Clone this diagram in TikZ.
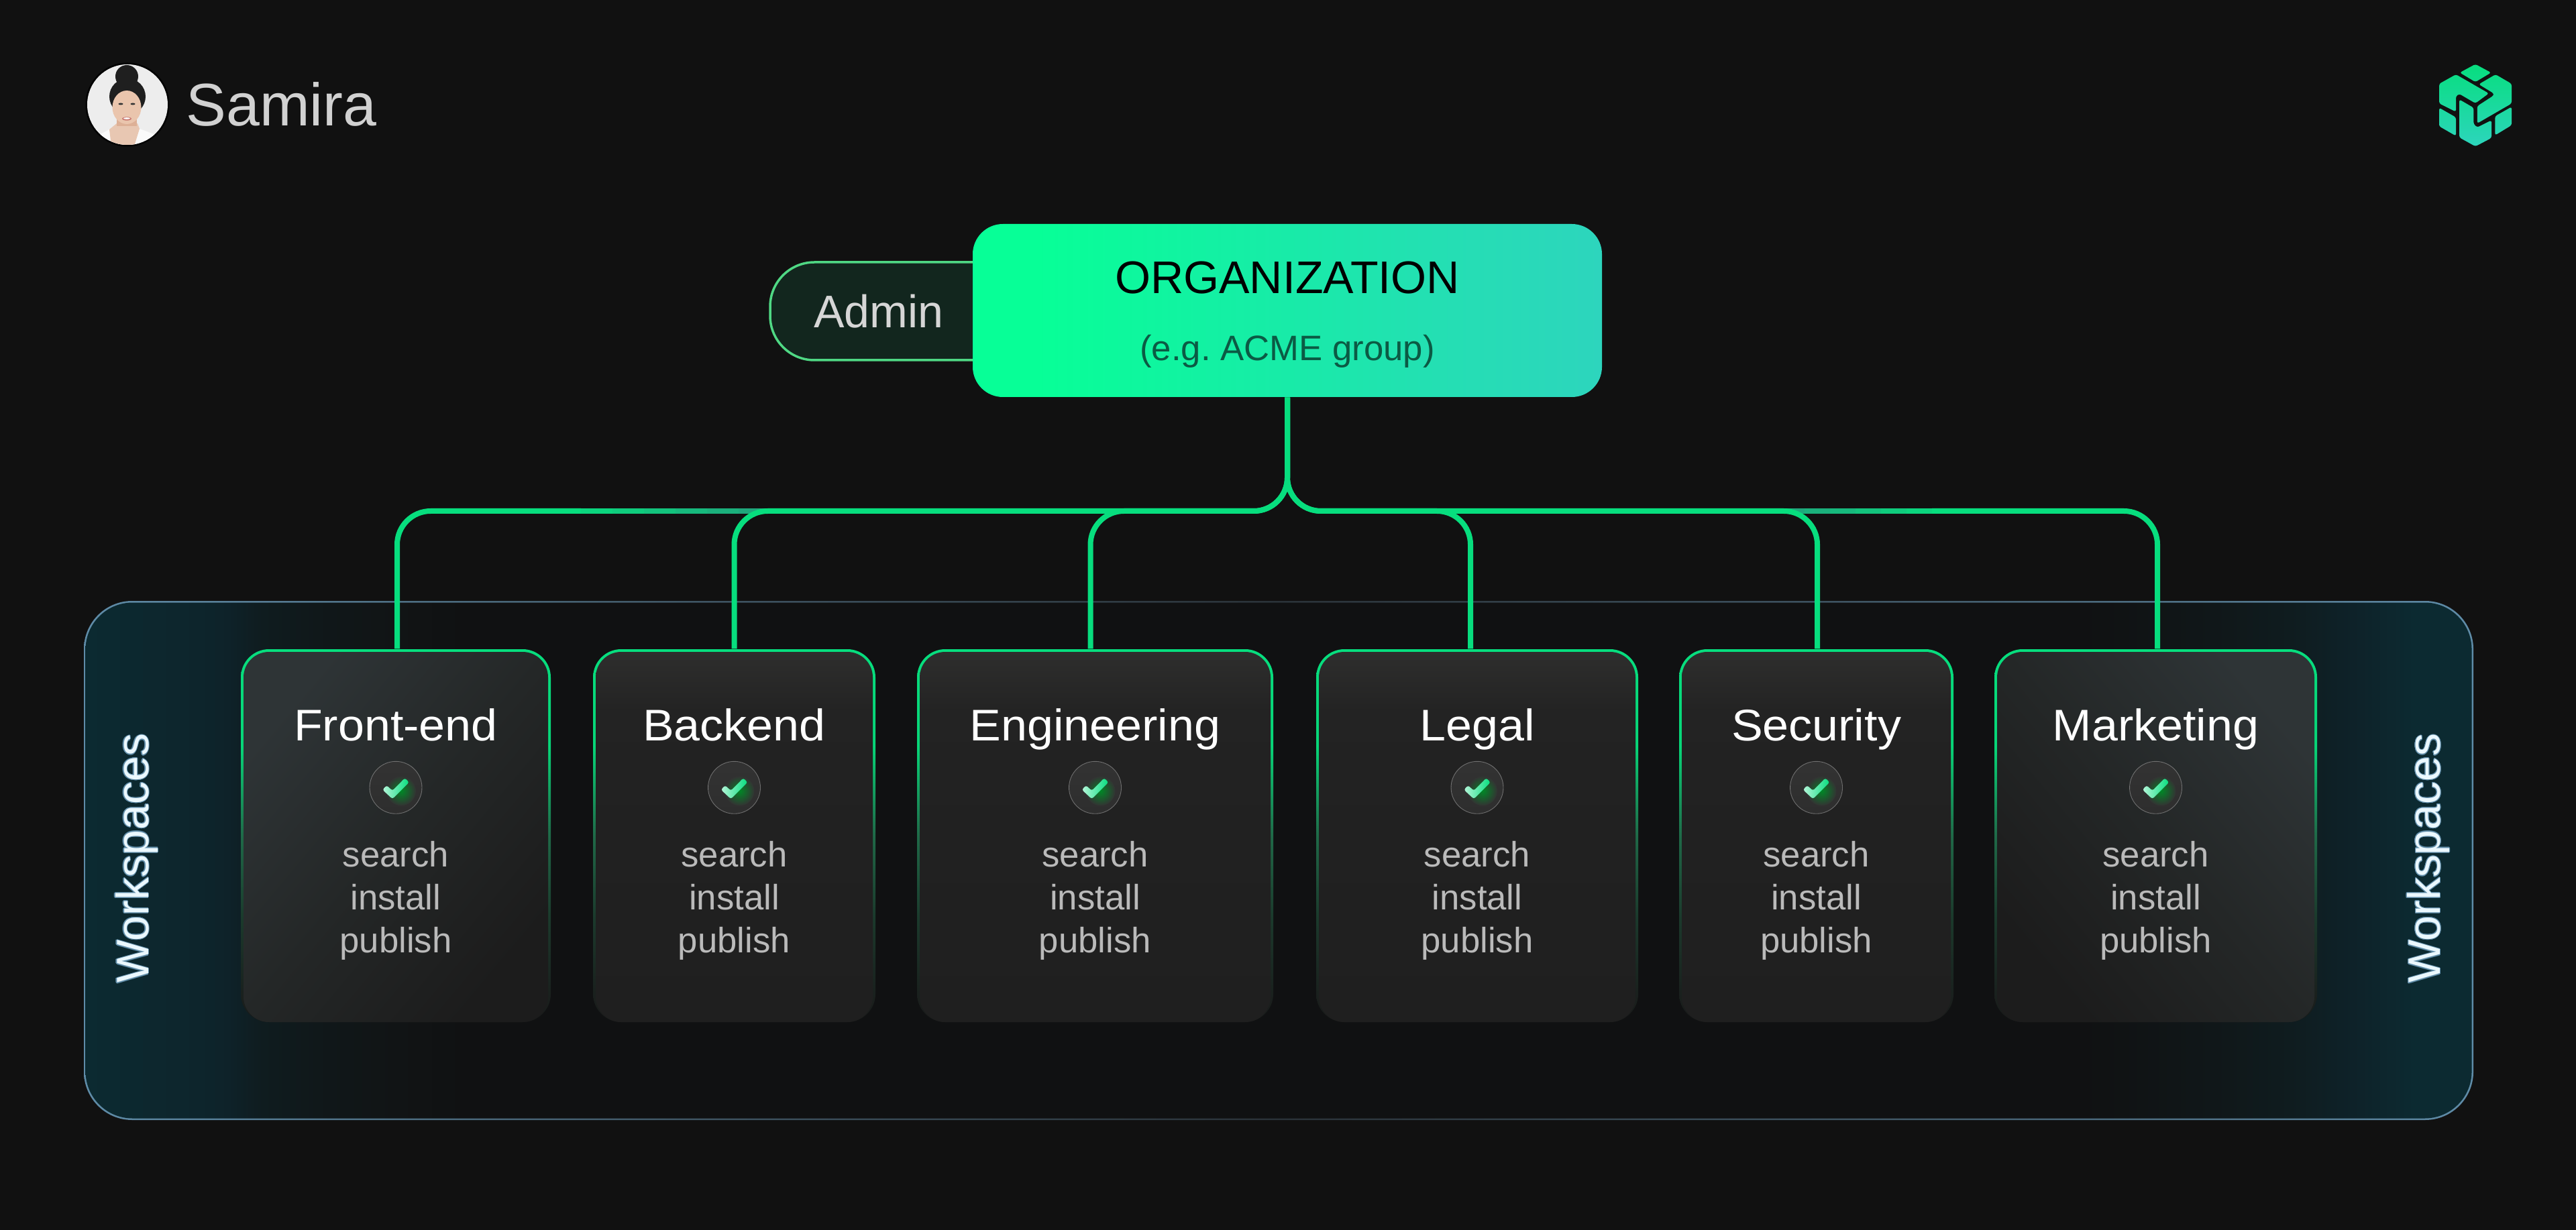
\documentclass[tikz,border=0pt]{standalone}
\usepackage{fontspec}
\usepackage[copies]{contour}
\setmainfont{Liberation Sans}
\newfontfamily\titlefont[FakeStretch=1.06]{Liberation Sans}
\usetikzlibrary{calc}

\definecolor{pagebg}{HTML}{111111}
\definecolor{busgreen}{HTML}{07DE7E}
\definecolor{busdim}{HTML}{1FA77C}
\definecolor{panelteal}{HTML}{0C2A31}
\definecolor{panelb}{HTML}{0D252C}
\definecolor{panelc}{HTML}{0E2229}
\definecolor{paneld}{HTML}{0F1C1F}
\definecolor{panele}{HTML}{101719}
\definecolor{panelf}{HTML}{111415}
\definecolor{panelcore}{HTML}{101112}
\definecolor{lineblue}{HTML}{5F8CA8}
\definecolor{linemid}{HTML}{3F5563}
\definecolor{linecore}{HTML}{2A3238}
\definecolor{stroke0}{HTML}{191B1A}
\definecolor{stroke1}{HTML}{1A211E}
\definecolor{stroke2}{HTML}{1B3A2C}
\definecolor{stroke3}{HTML}{1F6A48}
\definecolor{stroke4}{HTML}{07D678}
\definecolor{cardlow}{HTML}{1F1F1F}
\definecolor{cardmid}{HTML}{232323}
\definecolor{cardtop}{HTML}{2E2E2D}
\definecolor{sidelow}{HTML}{1C1C1C}
\definecolor{sidemid}{HTML}{242727}
\definecolor{sidetop}{HTML}{2E3436}
\definecolor{orgleft}{HTML}{07FF97}
\definecolor{orgmid}{HTML}{18EBA8}
\definecolor{orghigh}{HTML}{24DFB3}
\definecolor{orgright}{HTML}{2DD5BD}
\definecolor{adminfill}{HTML}{12261E}
\definecolor{adminline}{HTML}{4FD884}
\definecolor{orgnote}{HTML}{0B5A44}
\definecolor{skin}{HTML}{EAC5AD}
\definecolor{skinlow}{HTML}{DDB096}
\definecolor{skinchest}{HTML}{E8C7B2}
\definecolor{lips}{HTML}{C97A72}

\pgfdeclarehorizontalshading{panelband}{100bp}{color(0bp)=(panelteal); color(25bp)=(panelteal);
    color(27.4bp)=(panelb); color(28bp)=(panelc); color(28.7bp)=(paneld); color(30.1bp)=(panele);
    color(31.5bp)=(panelf); color(33bp)=(panelcore); color(66.8bp)=(panelcore); color(69.6bp)=(panele);
    color(71.2bp)=(paneld); color(72.5bp)=(panelc); color(73.8bp)=(panelteal); color(75bp)=(panelteal); color(100bp)=(panelteal)}
\pgfdeclarehorizontalshading{panelline}{100bp}{color(0bp)=(lineblue); color(25bp)=(lineblue);
    color(38bp)=(linemid); color(50bp)=(linecore); color(62bp)=(linemid); color(75bp)=(lineblue); color(100bp)=(lineblue)}
\pgfdeclareverticalshading{cardstroke}{100bp}{color(0bp)=(stroke0); color(25bp)=(stroke0); color(29bp)=(stroke1);
    color(39bp)=(stroke2); color(50bp)=(stroke3); color(62bp)=(stroke4); color(75bp)=(busgreen); color(100bp)=(busgreen)}
\pgfdeclareverticalshading{cardbody}{100bp}{color(0bp)=(cardlow); color(25bp)=(cardlow); color(50bp)=(cardlow!50!cardmid);
    color(67bp)=(cardmid); color(75bp)=(cardtop); color(100bp)=(cardtop)}
\pgfdeclareverticalshading{cardside}{100bp}{color(0bp)=(sidelow); color(25bp)=(sidelow); color(50bp)=(sidemid);
    color(75bp)=(sidetop); color(100bp)=(sidetop)}
\pgfdeclarehorizontalshading{orgband}{100bp}{color(0bp)=(orgleft); color(25bp)=(orgleft); color(30bp)=(orgleft);
    color(50bp)=(orgmid); color(62bp)=(orghigh); color(75bp)=(orgright); color(100bp)=(orgright)}

\contourlength{.3pt}

\tikzset{
    checkbadge/.pic={
        \fill[top color=black!10!white!22!black, bottom color=white!18!black] (0,0) circle (.39);
        \shade[inner color=green!45!black!85!cyan, outer color=white!20!black] (.08,-.05) circle (.22);
        \draw[white, opacity=.35, line width=.25pt] (0,0) circle (.39);
        \path[rounded corners=.03cm, left color=white!70!busgreen, right color=busgreen]
            (-.136,.033) -- (-.05,-.047) -- (.135,.1415) -- (.199,.0785) -- (-.05,-.17) -- (-.198,-.033) -- cycle;
    }
}

\begin{document}
\begin{tikzpicture}
    \tikzstyle{panel} = [rectangle, inner sep=0, minimum width=35.62cm, minimum height=7.74cm, rounded corners=.72cm]
    \tikzstyle{cardedge} = [rectangle, inner sep=0, minimum height=5.56cm, rounded corners=.42cm, shading=cardstroke]
    \tikzstyle{cardfill} = [rectangle, inner sep=0, minimum height=5.52cm, rounded corners=.38cm, shading=cardbody]
    \tikzstyle{cardlight} = [cardfill, shading=cardside]
    \tikzstyle{cardtitle} = [anchor=base, inner sep=0, white, font=\titlefont\fontsize{18.8pt}{22pt}\selectfont]
    \tikzstyle{verb} = [anchor=base, inner sep=0, black!27!white, font=\fontsize{15pt}{18pt}\selectfont]
    \tikzstyle{sideword} = [anchor=base, inner sep=0, rotate=90, white!92!cyan, font=\fontsize{19.3pt}{22pt}\selectfont]
    \tikzstyle{busline} = [busgreen, line width=.08cm, rounded corners=.5cm]
    \tikzstyle{busfade} = [line width=.08cm]

    % Page ----------------------------------------------
    \fill[pagebg] (0, 0) rectangle (38.4, -18.34);

    % Person --------------------------------------------
    \node[circle, fill=black, inner sep=0, minimum size=1.25cm] (avatar) at (1.90, -1.56) {};
    \begin{scope}
        \clip (avatar) circle (.6);
        \fill[black!7!white] (1.2, -.9) rectangle (2.6, -2.2);
        \fill[white!98!black] (1.40, -2.20) -- (1.48, -2.01) -- (1.63, -1.93) -- (2.08, -1.92) -- (2.35, -2.02) -- (2.40, -2.20) -- cycle;
        \fill[skinchest] (1.63, -1.93) -- (1.74, -1.84) -- (2.05, -1.84) -- (2.08, -1.92) -- (2.00, -2.18) -- (1.66, -2.18) -- cycle;
        \fill[black!88] (1.89, -1.14) circle (.17);
        \fill[black!88] (1.90, -1.44) ellipse (.27 and .27);
        \fill[skinlow] (1.74, -1.70) rectangle (2.04, -1.88);
        \fill[skin] (1.89, -1.60) ellipse (.215 and .25);
        \fill[black!80] (1.80, -1.55) ellipse (.035 and .015);
        \fill[black!80] (1.98, -1.55) ellipse (.035 and .015);
        \fill[lips] (1.89, -1.77) ellipse (.07 and .027);
        \fill[white] (1.89, -1.765) ellipse (.05 and .013);
    \end{scope}
    \node[anchor=base west, inner sep=0, black!18!white, font=\fontsize{25.5pt}{28pt}\selectfont] (person) at (2.77, -1.88) {Samira};

    % Logo ----------------------------------------------
    \begin{scope}
        \clip[rounded corners=.03cm]
            (36.9, -.957) -- (37.133, -1.083) -- (36.9, -1.223) -- (36.667, -1.083) -- cycle
            (37.2, -1.11) -- (37.44, -1.25) -- (37.44, -1.543) -- (36.927, -1.84) -- (36.927, -1.583) -- (37.173, -1.423) -- (37.173, -1.393) -- (36.95, -1.257) -- cycle
            (36.61, -1.11) -- (37.1, -1.393) -- (36.9, -1.54) -- (36.66, -1.40) -- (36.61, -1.433) -- (36.61, -1.667) -- (36.36, -1.543) -- (36.36, -1.25) -- cycle
            (36.36, -1.607) -- (36.61, -1.75) -- (36.61, -2.027) -- (36.36, -1.883) -- cycle
            (36.66, -1.483) -- (36.873, -1.607) -- (36.873, -1.85) -- (36.927, -1.90) -- (37.14, -1.793) -- (37.14, -2.057) -- (36.9, -2.183) -- (36.66, -2.05) -- cycle
            (37.193, -1.733) -- (37.44, -1.593) -- (37.44, -1.867) -- (37.193, -2.017) -- cycle;
        \shade[top color=busgreen, bottom color=orgright] (36.3, -.95) rectangle (37.5, -2.19);
    \end{scope}

    % Workspaces panel ----------------------------------
    \node[panel, shading=panelline] (panel) at (19.06, -12.83) {};
    \node[panel, shading=panelband, minimum width=35.57cm, minimum height=7.69cm, rounded corners=.70cm] (panel_fill) at (panel) {};
    \node[sideword] (left_word) at (2.21, -12.80) {\contour{lineblue}{Workspaces}};
    \node[sideword] (right_word) at (36.37, -12.80) {\contour{lineblue}{Workspaces}};

    % Organization --------------------------------------
    \node[rectangle, draw=adminline, line width=.035cm, fill=adminfill, rounded corners=.66cm, minimum width=4cm, minimum height=1.46cm] (admin) at (13.48, -4.64) {};
    \node[inner sep=0, text=white!84!black, font=\fontsize{19.4pt}{22pt}\selectfont] (admin_label) at (13.10, -4.64) {Admin};
    \node[rectangle, inner sep=0, minimum width=9.38cm, minimum height=2.58cm, rounded corners=.45cm, shading=orgband] (organization) at (19.19, -4.63) {};
    \node[anchor=base, inner sep=0, black, font=\fontsize{19.4pt}{22pt}\selectfont] (org_name) at ($(organization.north) + (0, -1.04)$) {ORGANIZATION};
    \node[anchor=base, inner sep=0, orgnote, font=\fontsize{15pt}{18pt}\selectfont] (org_note) at ($(organization.north) + (0, -2.04)$) {(e.g.\ ACME group)};

    % Cards ---------------------------------------------
    \node[cardedge, minimum width=4.62cm] (front) at (5.90, -12.46) {};
    \node[cardedge, minimum width=4.21cm] (backend) at (10.945, -12.46) {};
    \node[cardedge, minimum width=5.31cm] (engineering) at (16.325, -12.46) {};
    \node[cardedge, minimum width=4.80cm] (legal) at (22.02, -12.46) {};
    \node[cardedge, minimum width=4.09cm] (security) at (27.075, -12.46) {};
    \node[cardedge, minimum width=4.81cm] (marketing) at (32.135, -12.46) {};

    % Connectors ----------------------------------------
    \coordinate (bus) at (19.19, -7.62);
    \coordinate (front_top) at ($(front.north) + (.02, 0)$);
    \coordinate (backend_top) at ($(backend.north) + (0, 0)$);
    \coordinate (engineering_top) at ($(engineering.north) + (-.07, 0)$);
    \coordinate (legal_top) at ($(legal.north) + (-.10, 0)$);
    \coordinate (security_top) at ($(security.north) + (.015, 0)$);
    \coordinate (marketing_top) at ($(marketing.north) + (.025, 0)$);
    \coordinate (front_fade) at (8.66, -7.62);
    \coordinate (marketing_fade) at (28.80, -7.62);

    \draw[busline] (front_fade) -- (bus -| front_top) -- (front_top);
    \draw[busline] (marketing_fade) -- (bus -| marketing_top) -- (marketing_top);

    % fading ends of the two long branches
    \draw[busfade, busgreen!83!busdim] (front_fade) -- (9.13, -7.62);
    \draw[busfade, busgreen!67!busdim] (9.13, -7.62) -- (9.60, -7.62);
    \draw[busfade, busgreen!50!busdim] (9.60, -7.62) -- (10.07, -7.62);
    \draw[busfade, busgreen!33!busdim] (10.07, -7.62) -- (10.54, -7.62);
    \draw[busfade, busgreen!17!busdim] (10.54, -7.62) -- (11.01, -7.62);
    \draw[busfade, busdim] (11.01, -7.62) -- (11.50, -7.62);
    \draw[busfade, busdim] (26.50, -7.62) -- (26.90, -7.62);
    \draw[busfade, busgreen!17!busdim] (26.90, -7.62) -- (27.28, -7.62);
    \draw[busfade, busgreen!33!busdim] (27.28, -7.62) -- (27.66, -7.62);
    \draw[busfade, busgreen!50!busdim] (27.66, -7.62) -- (28.04, -7.62);
    \draw[busfade, busgreen!67!busdim] (28.04, -7.62) -- (28.42, -7.62);
    \draw[busfade, busgreen!83!busdim] (28.42, -7.62) -- (marketing_fade);

    \draw[busline] (organization.south) -- (bus) -- (bus -| backend_top) -- (backend_top);
    \draw[busline] (organization.south) -- (bus) -- (bus -| engineering_top) -- (engineering_top);
    \draw[busline] (organization.south) -- (bus) -- (bus -| legal_top) -- (legal_top);
    \draw[busline] (organization.south) -- (bus) -- (bus -| security_top) -- (security_top);

    % Card bodies ---------------------------------------
    \node[cardlight, shading angle=50, minimum width=4.54cm] (front_fill) at ($(front) + (0, -.02)$) {};
    \node[cardfill, minimum width=4.13cm] (backend_fill) at ($(backend) + (0, -.02)$) {};
    \node[cardfill, minimum width=5.23cm] (engineering_fill) at ($(engineering) + (0, -.02)$) {};
    \node[cardfill, minimum width=4.72cm] (legal_fill) at ($(legal) + (0, -.02)$) {};
    \node[cardfill, minimum width=4.01cm] (security_fill) at ($(security) + (0, -.02)$) {};
    \node[cardlight, shading angle=-50, minimum width=4.73cm] (marketing_fill) at ($(marketing) + (0, -.02)$) {};

    % Card texts ----------------------------------------
    \node[cardtitle] (front_title) at ($(front.north) + (0, -1.37)$) {Front-end};
    \pic at ($(front.north) + (0, -2.07)$) {checkbadge};
    \node[verb] (front_search) at ($(front.north) + (0, -3.25)$) {search};
    \node[verb] (front_install) at ($(front_search.base) + (0, -.64)$) {install};
    \node[verb] (front_publish) at ($(front_install.base) + (0, -.64)$) {publish};

    \node[cardtitle] (backend_title) at ($(backend.north) + (0, -1.37)$) {Backend};
    \pic at ($(backend.north) + (0, -2.07)$) {checkbadge};
    \node[verb] (backend_search) at ($(backend.north) + (0, -3.25)$) {search};
    \node[verb] (backend_install) at ($(backend_search.base) + (0, -.64)$) {install};
    \node[verb] (backend_publish) at ($(backend_install.base) + (0, -.64)$) {publish};

    \node[cardtitle] (engineering_title) at ($(engineering.north) + (0, -1.37)$) {Engineering};
    \pic at ($(engineering.north) + (0, -2.07)$) {checkbadge};
    \node[verb] (engineering_search) at ($(engineering.north) + (0, -3.25)$) {search};
    \node[verb] (engineering_install) at ($(engineering_search.base) + (0, -.64)$) {install};
    \node[verb] (engineering_publish) at ($(engineering_install.base) + (0, -.64)$) {publish};

    \node[cardtitle] (legal_title) at ($(legal.north) + (0, -1.37)$) {Legal};
    \pic at ($(legal.north) + (0, -2.07)$) {checkbadge};
    \node[verb] (legal_search) at ($(legal.north) + (0, -3.25)$) {search};
    \node[verb] (legal_install) at ($(legal_search.base) + (0, -.64)$) {install};
    \node[verb] (legal_publish) at ($(legal_install.base) + (0, -.64)$) {publish};

    \node[cardtitle] (security_title) at ($(security.north) + (0, -1.37)$) {Security};
    \pic at ($(security.north) + (0, -2.07)$) {checkbadge};
    \node[verb] (security_search) at ($(security.north) + (0, -3.25)$) {search};
    \node[verb] (security_install) at ($(security_search.base) + (0, -.64)$) {install};
    \node[verb] (security_publish) at ($(security_install.base) + (0, -.64)$) {publish};

    \node[cardtitle] (marketing_title) at ($(marketing.north) + (0, -1.37)$) {Marketing};
    \pic at ($(marketing.north) + (0, -2.07)$) {checkbadge};
    \node[verb] (marketing_search) at ($(marketing.north) + (0, -3.25)$) {search};
    \node[verb] (marketing_install) at ($(marketing_search.base) + (0, -.64)$) {install};
    \node[verb] (marketing_publish) at ($(marketing_install.base) + (0, -.64)$) {publish};
\end{tikzpicture}
\end{document}
